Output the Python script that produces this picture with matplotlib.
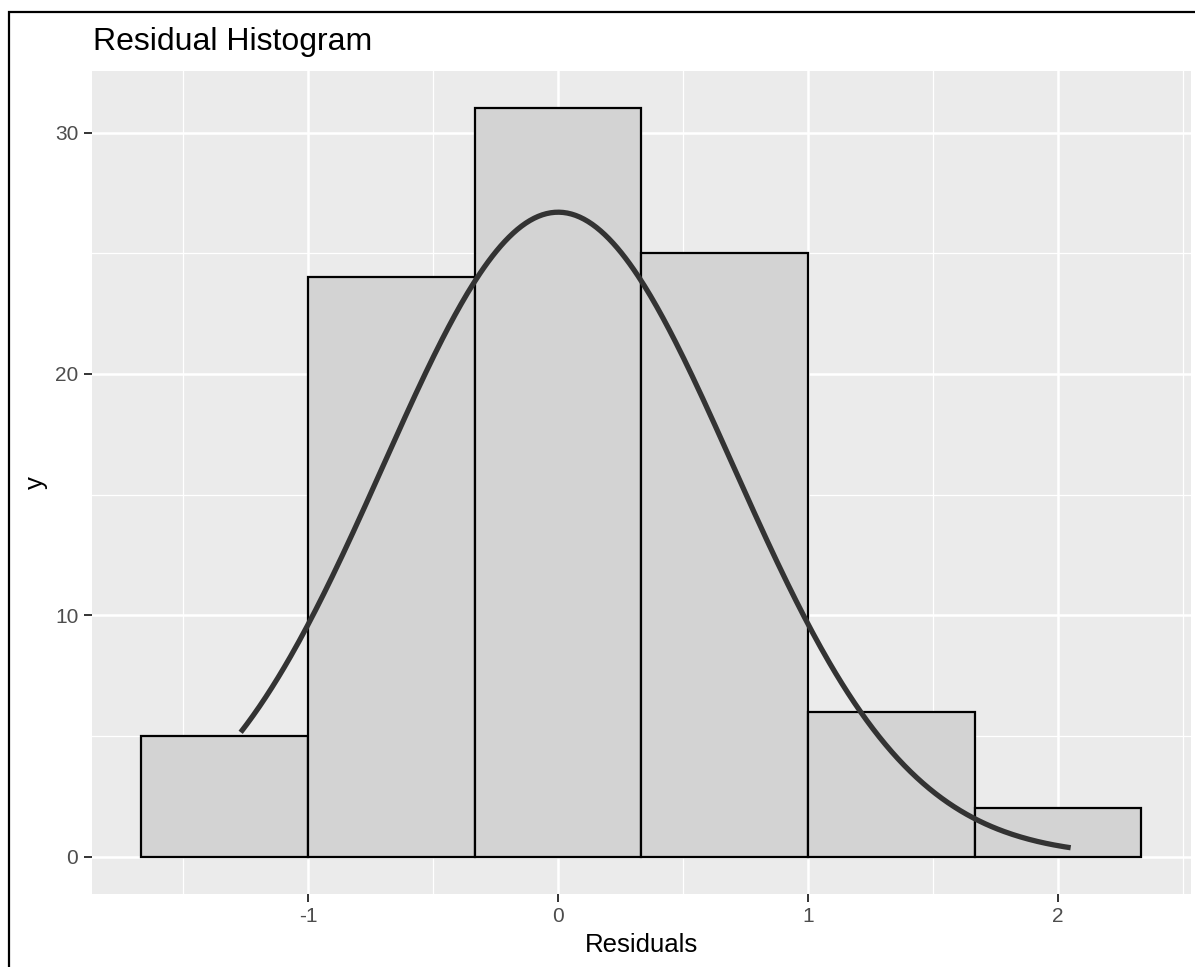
import numpy as np
import matplotlib
matplotlib.use("Agg")
import matplotlib.pyplot as plt
from matplotlib.patches import Rectangle

plt.rcParams['font.family'] = ['Liberation Sans', 'DejaVu Sans']

# Histogram bins of the residuals
bin_edges = [-5/3, -1, -1/3, 1/3, 1, 5/3, 7/3]
bin_counts = [5, 24, 31, 25, 6, 2]

# Normal curve overlay: peak height, centre, spread, drawn range
curve_peak = 26.7
curve_mean = 0.0
curve_sd = 0.70
curve_range = (-1.27, 2.05)

x_ticks = [-1, 0, 1, 2]
y_ticks = [0, 10, 20, 30]

W, H = 1195, 967
fig = plt.figure(figsize=(W / 100, H / 100), dpi=100)
ax = fig.add_axes([91.5 / W, 1 - 894 / H, (1191.5 - 91.5) / W, (894 - 71) / H])

ax.set_facecolor('#EBEBEB')
for s in ax.spines.values():
    s.set_visible(False)

# grid
for x in [-1.5, -0.5, 0.5, 1.5, 2.5]:
    ax.axvline(x, color='white', lw=0.9, zorder=0)
for y in [5, 15, 25]:
    ax.axhline(y, color='white', lw=0.9, zorder=0)
for x in x_ticks:
    ax.axvline(x, color='white', lw=1.8, zorder=0)
for y in y_ticks:
    ax.axhline(y, color='white', lw=1.8, zorder=0)

lefts = np.array(bin_edges[:-1])
widths = np.diff(bin_edges)
ax.bar(lefts, bin_counts, width=widths, align='edge', color='#D3D3D3',
       edgecolor='black', linewidth=1.6, zorder=2)

xs = np.linspace(curve_range[0], curve_range[1], 400)
ys = curve_peak * np.exp(-0.5 * ((xs - curve_mean) / curve_sd) ** 2)
ax.plot(xs, ys, color='#333333', lw=3.8, zorder=3, solid_capstyle='butt')

span = bin_edges[-1] - bin_edges[0]
ax.set_xlim(bin_edges[0] - 0.05 * span, bin_edges[-1] + 0.05 * span)
ymax = max(bin_counts)
ax.set_ylim(-0.05 * ymax, ymax * 1.05)

ax.set_xticks(x_ticks)
ax.set_xticklabels([str(v) for v in x_ticks])
ax.set_yticks(y_ticks)
ax.set_yticklabels([str(v) for v in y_ticks])
ax.tick_params(axis='both', colors='#333333', labelcolor='#4D4D4D',
               labelsize=15, length=5.5, width=1.4, pad=4)

ax.set_xlabel('Residuals', fontsize=18.5, color='black', labelpad=5)
ax.set_ylabel('y', fontsize=18.5, color='black', labelpad=5)

fig.text(93 / W, 1 - 42 / H, 'Residual Histogram', fontsize=23,
         ha='left', va='center', color='black')

# outer frame
fig.add_artist(Rectangle((9 / W, -0.01), (1200 - 9) / W, 1 - 12 / H + 0.01,
                         transform=fig.transFigure, fill=False,
                         edgecolor='black', lw=1.6))

fig.savefig('out.png', dpi=100)
